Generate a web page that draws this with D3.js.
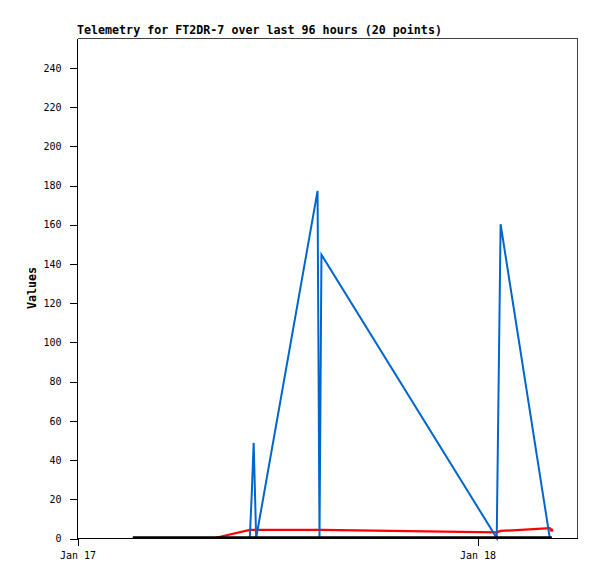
<!DOCTYPE html>
<html>
<head>
<meta charset="utf-8">
<script src="https://cdn.jsdelivr.net/npm/d3@7"></script>
<style>
  html, body { margin: 0; padding: 0; background: #fff; }
  svg { display: block; }
  text { font-family: "DejaVu Sans Mono", "Liberation Mono", monospace; }
</style>
</head>
<body>
<svg id="chart" width="597" height="579"></svg>
<script>
// ---- data ----
const titleText = "Telemetry for FT2DR-7 over last 96 hours (20 points)";
const yLabel = "Values";
const times = [
  "2024-01-17T03:21", "2024-01-17T08:16", "2024-01-17T10:22", "2024-01-17T10:29",
  "2024-01-17T10:36", "2024-01-17T10:45", "2024-01-17T14:26", "2024-01-17T14:33",
  "2024-01-17T14:40", "2024-01-18T01:11", "2024-01-18T01:25", "2024-01-18T04:22",
  "2024-01-18T04:29"
];
const blueValues  = [0, 0, 0, 22, 48.5, 0, 177, 0, 144.5, 0, 160, 0, 0];
const redValues   = [0, 0, 4.1, 4.1, 4.1, 4.1, 4.1, 4.1, 4.1, 2.9, 3.6, 5.0, 4.0];
const blackValues = [0, 0, 0, 0, 0, 0, 0, 0, 0, 0, 0, 0, 0];
const xDomain = ["2024-01-17T00:00", "2024-01-18T06:00"];
const xTickValues = ["2024-01-17T00:00", "2024-01-18T00:00"];
const yDomain = [0, 255];
const yTickValues = [0, 20, 40, 60, 80, 100, 120, 140, 160, 180, 200, 220, 240];

// ---- layout ----
const parse = d3.timeParse("%Y-%m-%dT%H:%M");
const L = 77, R = 577, T = 38, B = 538;
const svg = d3.select("#chart");

const x = d3.scaleTime().domain(xDomain.map(parse)).range([L, R]);
const y = d3.scaleLinear().domain(yDomain).range([B, T]);

// frame (top/right)
svg.append("path")
  .attr("d", `M${L + 0.5},${T + 0.5}H${R + 0.5}V${B + 0.5}`)
  .attr("fill", "none").attr("stroke", "#404040").attr("stroke-width", 1)
  .attr("shape-rendering", "crispEdges");

// series
const mk = vals => times.map((t, i) => ({ t: parse(t), v: vals[i] }));
const line = d3.line().x(d => x(d.t)).y(d => y(d.v));

const redData = mk(redValues);
svg.append("path").datum(redData)
  .attr("d", line).attr("fill", "none").attr("stroke", "#ff0000")
  .attr("stroke-width", 2.2).attr("stroke-linejoin", "miter");
const last = redData[redData.length - 1];
svg.append("rect")
  .attr("x", x(last.t) - 1.5).attr("y", y(last.v) - 1.5)
  .attr("width", 3).attr("height", 3).attr("fill", "#ff0000");
svg.append("path").datum(mk(blueValues))
  .attr("d", line).attr("fill", "none").attr("stroke", "#0066cc")
  .attr("stroke-width", 2).attr("stroke-linejoin", "miter");
svg.append("path").datum(mk(blackValues))
  .attr("d", line).attr("fill", "none").attr("stroke", "#000000")
  .attr("stroke-width", 2.4).attr("transform", "translate(0,-0.5)");

// axes
const yAxis = d3.axisLeft(y).tickValues(yTickValues).tickSize(8).tickPadding(8);
const gy = svg.append("g").attr("transform", `translate(${L + 0.5},0.5)`).call(yAxis);
const xAxis = d3.axisBottom(x).tickValues(xTickValues.map(parse))
  .tickFormat(d3.timeFormat("%b %d")).tickSize(7).tickPadding(6);
const gx = svg.append("g").attr("transform", `translate(0.5,${B + 0.5})`).call(xAxis);

[gx, gy].forEach(g => {
  g.select(".domain").attr("stroke", "#000").attr("shape-rendering", "crispEdges");
  g.selectAll(".tick line").attr("stroke", "#000").attr("shape-rendering", "crispEdges");
  g.selectAll(".tick text").attr("fill", "#000")
    .style("font-family", '"DejaVu Sans Mono", monospace').style("font-size", "10px");
});
gy.select(".domain").attr("d", `M0,${T}V${B}`);
gx.select(".domain").attr("d", `M${L},0H${R}`);

// title
svg.append("text").attr("x", L).attr("y", 34)
  .style("font-size", "11.67px").style("font-weight", "bold")
  .attr("fill", "#000").text(titleText);

// y label
svg.append("text")
  .attr("transform", `translate(36,${(T + B) / 2}) rotate(-90)`)
  .attr("text-anchor", "middle")
  .style("font-size", "11.67px").style("font-weight", "bold")
  .attr("fill", "#000").text(yLabel);
</script>
</body>
</html>
